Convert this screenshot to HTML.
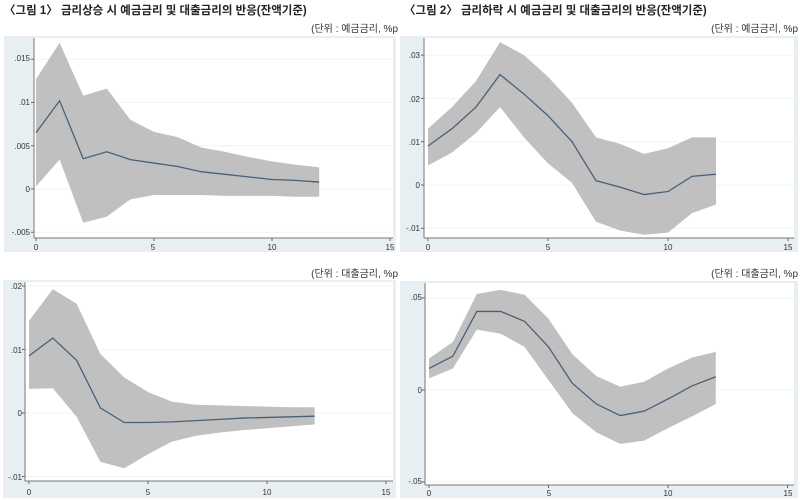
<!DOCTYPE html>
<html><head><meta charset="utf-8"><style>
body{margin:0;background:#fff;width:800px;height:500px;overflow:hidden;font-family:"Liberation Sans","Noto Sans CJK KR",sans-serif}
svg{display:block}
.t{font-size:11.5px;font-weight:bold;fill:#222}
.u{font-size:10px;fill:#333}
</style></head><body>
<svg id="s" width="800" height="500" xmlns="http://www.w3.org/2000/svg">
<text class="t" x="4" y="14">〈그림 1〉 금리상승 시 예금금리 및 대출금리의 반응(잔액기준)</text>
<text class="t" x="404" y="14">〈그림 2〉 금리하락 시 예금금리 및 대출금리의 반응(잔액기준)</text>
<text class="u" x="398" y="32" text-anchor="end">(단위 : 예금금리, %p</text>
<text class="u" x="798" y="32" text-anchor="end">(단위 : 예금금리, %p</text>
<text class="u" x="398" y="277" text-anchor="end">(단위 : 대출금리, %p</text>
<text class="u" x="798" y="277" text-anchor="end">(단위 : 대출금리, %p</text>
<g id="p"></g>
<g font-size="8" fill="#333" font-family="Liberation Sans,sans-serif">
<text x="30" y="61" text-anchor="end">.015</text><text x="30" y="105" text-anchor="end">.01</text><text x="30" y="149" text-anchor="end">.005</text><text x="30" y="192" text-anchor="end">0</text><text x="30" y="235" text-anchor="end">-.005</text>
<text x="36" y="250" text-anchor="middle">0</text><text x="153" y="250" text-anchor="middle">5</text><text x="272" y="250" text-anchor="middle">10</text><text x="390" y="250" text-anchor="middle">15</text>
<text x="420" y="58" text-anchor="end">.03</text><text x="420" y="102" text-anchor="end">.02</text><text x="420" y="145" text-anchor="end">.01</text><text x="420" y="188" text-anchor="end">0</text><text x="420" y="231" text-anchor="end">-.01</text>
<text x="428" y="250" text-anchor="middle">0</text><text x="548" y="250" text-anchor="middle">5</text><text x="668" y="250" text-anchor="middle">10</text><text x="788" y="250" text-anchor="middle">15</text>
<text x="22" y="289" text-anchor="end">.02</text><text x="22" y="353" text-anchor="end">.01</text><text x="22" y="416" text-anchor="end">0</text><text x="22" y="480" text-anchor="end">-.01</text>
<text x="29" y="495" text-anchor="middle">0</text><text x="148" y="495" text-anchor="middle">5</text><text x="267" y="495" text-anchor="middle">10</text><text x="386" y="495" text-anchor="middle">15</text>
<text x="422" y="300" text-anchor="end">.05</text><text x="422" y="393" text-anchor="end">0</text><text x="422" y="484" text-anchor="end">-.05</text>
<text x="429" y="496" text-anchor="middle">0</text><text x="549" y="496" text-anchor="middle">5</text><text x="668" y="496" text-anchor="middle">10</text><text x="788" y="496" text-anchor="middle">15</text>
</g>
</svg>
<script>
var P=[
{ox:4,oy:36,ow:392,oh:216,ix:34,iy:38,iw:359,ih:200,x0:36,dx:23.6,y0:189,sy:8650,yt:[.015,.01,.005,0,-.005],
c:[.0065,.0102,.0035,.0043,.0034,.003,.0026,.002,.0017,.0014,.0011,.001,.0008],
u:[.0127,.0169,.0108,.0116,.008,.0066,.006,.0048,.0043,.0037,.0032,.0028,.0025],
l:[.0003,.0034,-.0039,-.0032,-.0012,-.0007,-.0007,-.0007,-.0008,-.0008,-.0008,-.0009,-.0009]},
{ox:400,oy:36,ow:398,oh:216,ix:424,iy:38,iw:370,ih:200,x0:428,dx:24,y0:185,sy:4330,yt:[.03,.02,.01,0,-.01],
c:[.009,.013,.018,.0255,.021,.016,.01,.001,-.0005,-.0022,-.0015,.002,.0025],
u:[.013,.018,.024,.033,.03,.025,.019,.011,.0095,.0072,.0085,.011,.011],
l:[.0045,.0075,.012,.018,.011,.005,.0005,-.0085,-.0105,-.0115,-.011,-.0065,-.0045]},
{ox:3,oy:280,ow:393,oh:218,ix:25,iy:282,iw:368,ih:199,x0:29,dx:23.8,y0:413,sy:6350,yt:[.02,.01,0,-.01],
c:[.009,.0118,.0083,.0008,-.0015,-.0015,-.0014,-.0012,-.001,-.0008,-.0007,-.0006,-.0005],
u:[.0145,.0195,.0172,.0093,.0056,.0033,.0018,.0013,.0012,.0011,.001,.0009,.0009],
l:[.0038,.0039,-.0006,-.0077,-.0087,-.0065,-.0045,-.0036,-.0031,-.0027,-.0024,-.0021,-.0018]},
{ox:400,oy:281,ow:398,oh:217,ix:425,iy:283,iw:369,ih:202,x0:429,dx:23.9,y0:390,sy:1840,yt:[.05,0,-.05],
c:[.0117,.0184,.0427,.0427,.0373,.0234,.0036,-.0076,-.0139,-.0115,-.0049,.0022,.0072],
u:[.0171,.0261,.0522,.0544,.0518,.0387,.0194,.0076,.0018,.0045,.0117,.0176,.0207],
l:[.0063,.0117,.0328,.0306,.0234,.0054,-.0126,-.023,-.0293,-.0275,-.0207,-.0144,-.0076]}];
var h='';
P.forEach(function(p){
 h+='<rect x="'+p.ox+'" y="'+p.oy+'" width="'+p.ow+'" height="'+p.oh+'" fill="#e8eff2"/>';
 h+='<rect x="'+p.ix+'" y="'+p.iy+'" width="'+p.iw+'" height="'+p.ih+'" fill="#fff"/>';
 p.yt.forEach(function(v){var y=p.y0-v*p.sy;h+='<line x1="'+p.ix+'" x2="'+(p.ix+p.iw)+'" y1="'+y+'" y2="'+y+'" stroke="#f2f4ee"/><line x1="'+(p.ix-3)+'" x2="'+p.ix+'" y1="'+y+'" y2="'+y+'" stroke="#666"/>';});
 for(var k=0;k<4;k++){var x=p.x0+k*5*p.dx;h+='<line x1="'+x+'" x2="'+x+'" y1="'+(p.iy+p.ih)+'" y2="'+(p.iy+p.ih+3)+'" stroke="#666"/>';}
 h+='<line x1="'+p.ix+'" x2="'+p.ix+'" y1="'+p.iy+'" y2="'+(p.iy+p.ih)+'" stroke="#777"/>';
 h+='<line x1="'+p.ix+'" x2="'+(p.ix+p.iw)+'" y1="'+(p.iy+p.ih)+'" y2="'+(p.iy+p.ih)+'" stroke="#777"/>';
 var a=[],c=[];
 for(var i=0;i<13;i++){var x=p.x0+i*p.dx;a.push(x+','+(p.y0-p.u[i]*p.sy));c.push(x+','+(p.y0-p.c[i]*p.sy));}
 for(var i=12;i>=0;i--){var x=p.x0+i*p.dx;a.push(x+','+(p.y0-p.l[i]*p.sy));}
 h+='<polygon points="'+a.join(' ')+'" fill="#c0c0c0"/>';
 h+='<polyline points="'+c.join(' ')+'" fill="none" stroke="#4a6078" stroke-width="1.3"/>';
});
document.getElementById('p').innerHTML=h;
</script>
</body></html>
